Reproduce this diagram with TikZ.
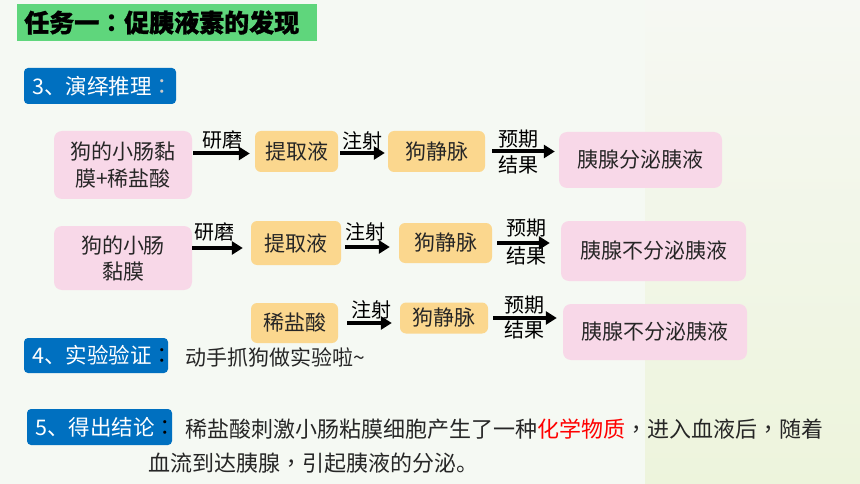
\documentclass[tikz,border=0pt]{standalone}
\usepackage{fontspec}
\setmainfont{Noto Sans CJK SC}
\newfontfamily\tcfont{Noto Sans CJK TC}
\newfontfamily\titlefont[BoldFeatures={FakeBold=1.2}]{Noto Sans CJK SC}
\newcommand\tpc[1]{{\tcfont #1}}
\usetikzlibrary{arrows.meta}
\definecolor{bgcol}{HTML}{F5F9F3}
\definecolor{rightTop}{HTML}{F6F8F3}
\definecolor{rightBot}{HTML}{EDF4DC}
\definecolor{titlegreen}{HTML}{5FD67C}
\definecolor{bluebox}{HTML}{0070C0}
\definecolor{pinkbox}{HTML}{F8D8E8}
\definecolor{orangebox}{HTML}{FBD78E}
\definecolor{txt}{HTML}{262626}
\definecolor{hired}{HTML}{FF0000}
\tikzset{
  pinkb/.style={fill=pinkbox, rounded corners=8pt, inner sep=0pt, text=txt, align=center,
    font=\fontsize{21}{27}\selectfont},
  orb/.style={fill=orangebox, rounded corners=6pt, inner sep=0pt, text=txt,
    font=\fontsize{21}{25}\selectfont},
  blueb/.style={fill=bluebox, rounded corners=4pt, inner sep=0pt},
  bluetxt/.style={anchor=west, inner sep=0pt, text=white, font=\fontsize{21.5}{24}\selectfont},
  lbl/.style={inner sep=0pt, text=black, font=\fontsize{20}{24}\selectfont},
  plain/.style={anchor=west, inner sep=0pt, text=txt, font=\fontsize{21}{24}\selectfont},
  concl/.style={anchor=west, inner sep=0pt, text=txt, font=\fontsize{22}{26}\selectfont},
  arr/.style={line width=4pt, -{Triangle[length=11pt,width=13pt]}, black}
}
\begin{document}
\begin{tikzpicture}[x=1pt,y=-1pt]
\useasboundingbox (0,0) rectangle (860,484);
% background
\fill[bgcol] (0,0) rectangle (860,484);
\shade[top color=rightTop, bottom color=rightBot] (645,0) rectangle (860,484);

% title
\node[fill=titlegreen, minimum width=300pt, minimum height=37pt, inner sep=0pt] (title) at (167,22.5) {};
\node[anchor=west, inner sep=0pt, font=\fontsize{25}{28}\titlefont\bfseries, text=black] (titletext) at (24,22.5) {任务一\tpc{：}促胰液素的发现};

% section 3
\node[blueb, minimum width=152pt, minimum height=36pt] (b3) at (100,86) {};
\node[bluetxt] (b3t) at (32,86) {3、演绎推理\textcolor{white!80!black}{\tpc{：}}};

% row 1
\node[pinkb, minimum width=138pt, minimum height=68pt] (p1) at (123,165) {狗的小肠黏\\膜+稀盐酸};
\node[orb, minimum width=83pt, minimum height=41pt] (e1) at (296.5,151.5) {提取液};
\node[orb, minimum width=97pt, minimum height=41pt] (v1) at (436.5,151.5) {狗静脉};
\node[pinkb, minimum width=163pt, minimum height=56pt] (r1) at (640.5,160) {胰腺分泌胰液};
\draw[arr] ([xshift=1pt,yshift=-2pt]p1.east |- e1.west) -- ([xshift=-5pt,yshift=-2pt]e1.west);
\draw[arr] ([xshift=2pt,yshift=-1.5pt]e1.east) -- ([xshift=-3pt,yshift=-1.5pt]v1.west);
\draw[arr] ([xshift=7pt]v1.east) -- ([xshift=-4pt]v1.east -| r1.west);
\node[lbl] (l1a) at (222,140) {研磨};
\node[lbl] (l1b) at (362,141) {注射};
\node[lbl] (l1c) at (518,139) {预期};
\node[lbl] (l1d) at (518,165) {结果};

% row 2
\node[pinkb, minimum width=138pt, minimum height=64pt, font=\fontsize{21}{26}\selectfont] (p2) at (123,258) {狗的小肠\\黏膜};
\node[orb, minimum width=90pt, minimum height=44pt] (e2) at (296,243) {提取液};
\node[orb, minimum width=93pt, minimum height=40pt] (v2) at (445.5,243) {狗静脉};
\node[pinkb, minimum width=185pt, minimum height=60pt] (r2) at (653.5,251) {胰腺不分泌胰液};
\draw[arr] ([yshift=-5pt]p2.east |- e2.west) -- ([xshift=-8pt,yshift=-5pt]e2.west);
\draw[arr] ([xshift=4pt,yshift=-4pt]e2.east) -- ([xshift=-9pt,yshift=-4pt]v2.west);
\draw[arr] ([xshift=5pt]v2.east) -- ([xshift=-11pt]v2.east -| r2.west);
\node[lbl] (l2a) at (214,232) {研磨};
\node[lbl] (l2b) at (365,232) {注射};
\node[lbl] (l2c) at (526,228) {预期};
\node[lbl] (l2d) at (526,256) {结果};

% row 3
\node[orb, minimum width=87pt, minimum height=40pt] (s3) at (294.5,323) {稀盐酸};
\node[orb, minimum width=88pt, minimum height=31pt] (v3) at (444,318) {狗静脉};
\node[pinkb, minimum width=184pt, minimum height=56pt] (r3) at (655,332) {胰腺不分泌胰液};
\draw[arr] ([xshift=9pt]s3.east) -- ([xshift=-8pt]s3.east -| v3.west);
\draw[arr] ([xshift=5pt]v3.east) -- ([xshift=-6pt]v3.east -| r3.west);
\node[lbl] (l3b) at (371,310) {注射};
\node[lbl] (l3c) at (524,305) {预期};
\node[lbl] (l3d) at (524,330) {结果};

% section 4
\node[blueb, minimum width=144pt, minimum height=35pt] (b4) at (96,355.5) {};
\node[bluetxt] (b4t) at (32,355.5) {4、实验验证\textcolor{black}{\tpc{：}}};
\node[plain] (t4) at (185,357) {动手抓狗做实验啦\char`\~};

% section 5
\node[blueb, minimum width=145pt, minimum height=36pt] (b5) at (99.5,427) {};
\node[bluetxt] (b5t) at (35,427) {5、得出结论\textcolor{black}{\tpc{：}}};
\node[concl] (c1) at (185,429) {稀盐酸刺激小肠粘膜细胞产生了一种\textcolor{hired}{化学物质}\tpc{，}进入血液后\tpc{，}随着};
\node[concl] (c2) at (148,463) {血流到达胰腺\tpc{，}引起胰液的分泌。};
\end{tikzpicture}
\end{document}
